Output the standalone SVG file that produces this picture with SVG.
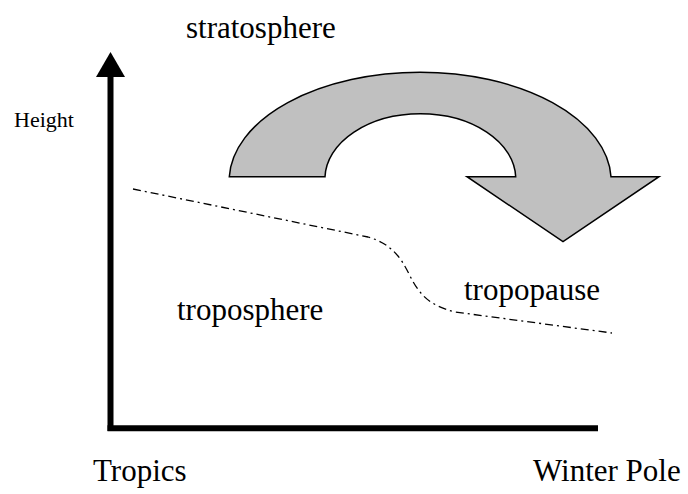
<svg xmlns="http://www.w3.org/2000/svg" width="688" height="494" viewBox="0 0 688 494">
<style>
  .t { font-family: 'Liberation Serif', 'DejaVu Serif', serif; fill: #000; }
  .lbl { font-size: 31px; }
  .small { font-size: 22px; }
  .axis { stroke: #000; stroke-width: 6; fill: none; }
  .tp { stroke: #000; stroke-width: 1.3; fill: none; stroke-dasharray: 8 4 2 4; }
  .flow { fill: #c0c0c0; stroke: #000; stroke-width: 1.5; stroke-linejoin: miter; }
</style>
<rect width="688" height="494" fill="#fff"/>
<g id="axes">
  <line class="axis" x1="110.5" y1="431" x2="110.5" y2="74"/>
  <polygon points="96,77 110.5,52 125,77" fill="#000"/>
  <line class="axis" x1="107.5" y1="428.3" x2="598" y2="428.3" stroke-width="5.5"/>
</g>
<g id="circulation">
  <path class="flow" d="M229.3,176.7 A191,108.7 0 0 1 611,176.7 L659,176.7 L563,241.7 L467,176.7 L515.7,176.7 A95.4,65 0 0 0 325,176.7 Z"/>
</g>
<g id="tropopause-line">
  <path class="tp" d="M133,189 L368,237 C392,244 401,258 409,274 C419,294 428,305 455,312 L612,333"/>
</g>
<g id="labels" font-family="Liberation Serif, DejaVu Serif, serif">
  <text class="t lbl" x="186" y="38">stratosphere</text>
  <text class="t small" x="14" y="127">Height</text>
  <text class="t lbl" x="177" y="320">troposphere</text>
  <text class="t lbl" x="464" y="300">tropopause</text>
  <text class="t lbl" x="93" y="481">Tropics</text>
  <text class="t lbl" x="533" y="481">Winter Pole</text>
</g>
</svg>
